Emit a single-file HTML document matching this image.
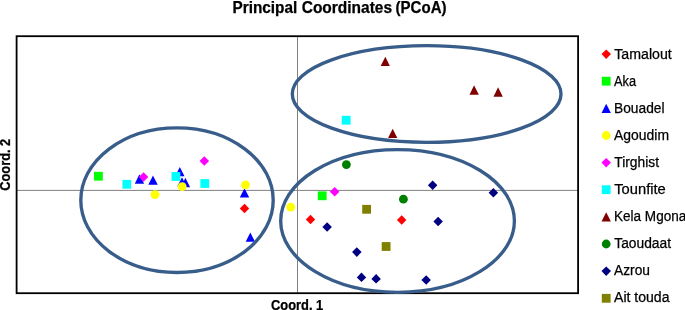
<!DOCTYPE html>
<html><head><meta charset="utf-8"><title>Principal Coordinates (PCoA)</title>
<style>
html,body{margin:0;padding:0;background:#fff;}
body{width:685px;height:310px;overflow:hidden;}
svg{display:block;}
text{font-family:"Liberation Sans",sans-serif;fill:#000;stroke:#000;stroke-width:0.25px;}
.b{font-weight:bold;}
</style></head><body>
<svg width="685" height="310" viewBox="0 0 685 310">
<rect x="0" y="0" width="685" height="310" fill="#fff"/>

<line x1="297.5" y1="36" x2="297.5" y2="293" stroke="#808080" stroke-width="1"/>
<line x1="17" y1="190.4" x2="578" y2="190.4" stroke="#808080" stroke-width="1"/>
<rect x="16.6" y="36.2" width="561.5" height="257" fill="none" stroke="#000" stroke-width="1.8"/>
<g>
<polygon points="244.5,203.7 249.2,208.4 244.5,213.2 239.8,208.4" fill="#FF0000"/>
<polygon points="310.5,214.8 315.2,219.6 310.5,224.3 305.8,219.6" fill="#FF0000"/>
<polygon points="401.7,215.2 406.4,220.0 401.7,224.8 396.9,220.0" fill="#FF0000"/>
</g>
<g>
<rect x="94.0" y="171.8" width="8.8" height="8.8" fill="#00FF00"/>
<rect x="317.8" y="191.4" width="8.8" height="8.8" fill="#00FF00"/>
</g>
<g>
<polygon points="139.4,174.3 144.1,183.7 134.8,183.7" fill="#0000FF"/>
<polygon points="153.0,175.5 157.7,184.8 148.3,184.8" fill="#0000FF"/>
<polygon points="179.8,166.9 184.5,176.2 175.2,176.2" fill="#0000FF"/>
<polygon points="182.0,177.2 186.7,186.6 177.3,186.6" fill="#0000FF"/>
<polygon points="185.4,177.8 190.1,187.2 180.8,187.2" fill="#0000FF"/>
<polygon points="244.5,188.2 249.2,197.6 239.8,197.6" fill="#0000FF"/>
<polygon points="250.3,232.4 255.0,241.8 245.7,241.8" fill="#0000FF"/>
</g>
<g>
<circle cx="155.0" cy="194.6" r="4.4" fill="#FFFF00"/>
<circle cx="182.2" cy="186.6" r="4.4" fill="#FFFF00"/>
<circle cx="245.5" cy="184.8" r="4.4" fill="#FFFF00"/>
<circle cx="290.7" cy="207.1" r="4.4" fill="#FFFF00"/>
</g>
<g>
<polygon points="143.6,172.3 148.3,177.1 143.6,181.8 138.8,177.1" fill="#FF00FF"/>
<polygon points="204.3,156.3 209.1,161.1 204.3,165.8 199.6,161.1" fill="#FF00FF"/>
<polygon points="334.7,186.9 339.4,191.7 334.7,196.4 329.9,191.7" fill="#FF00FF"/>
</g>
<g>
<rect x="122.4" y="179.9" width="8.8" height="8.8" fill="#00FFFF"/>
<rect x="171.5" y="172.1" width="8.8" height="8.8" fill="#00FFFF"/>
<rect x="200.4" y="179.1" width="8.8" height="8.8" fill="#00FFFF"/>
<rect x="341.8" y="115.8" width="8.8" height="8.8" fill="#00FFFF"/>
</g>
<g>
<polygon points="385.3,56.8 389.9,66.0 380.7,66.0" fill="#800000"/>
<polygon points="392.7,128.8 397.3,138.1 388.1,138.1" fill="#800000"/>
<polygon points="474.1,85.3 478.8,94.7 469.5,94.7" fill="#800000"/>
<polygon points="498.1,87.3 502.8,96.7 493.5,96.7" fill="#800000"/>
</g>
<g>
<circle cx="346.4" cy="164.6" r="4.4" fill="#008000"/>
<circle cx="403.4" cy="199.2" r="4.4" fill="#008000"/>
</g>
<g>
<polygon points="327.1,222.3 331.9,227.1 327.1,231.8 322.4,227.1" fill="#000080"/>
<polygon points="432.6,180.6 437.4,185.3 432.6,190.1 427.9,185.3" fill="#000080"/>
<polygon points="438.1,216.7 442.9,221.4 438.1,226.2 433.4,221.4" fill="#000080"/>
<polygon points="356.8,247.3 361.6,252.1 356.8,256.9 352.1,252.1" fill="#000080"/>
<polygon points="361.5,272.6 366.2,277.4 361.5,282.1 356.8,277.4" fill="#000080"/>
<polygon points="376.1,274.1 380.9,278.9 376.1,283.6 371.4,278.9" fill="#000080"/>
<polygon points="426.2,275.2 430.9,280.0 426.2,284.8 421.4,280.0" fill="#000080"/>
<polygon points="493.4,188.1 498.1,192.8 493.4,197.6 488.6,192.8" fill="#000080"/>
</g>
<g>
<rect x="362.2" y="204.9" width="8.8" height="8.8" fill="#808000"/>
<rect x="381.7" y="242.1" width="8.8" height="8.8" fill="#808000"/>
</g>
<g fill="none" stroke="#385D8A" stroke-width="3.35">
<ellipse cx="177" cy="200.2" rx="96.2" ry="72.3"/>
<ellipse cx="426.65" cy="94" rx="134.35" ry="48.3"/>
<ellipse cx="397.55" cy="220.95" rx="116.85" ry="71.35"/>
</g>
<text class="b" x="232.50" y="12.65" font-size="15.7" textLength="64.75" lengthAdjust="spacingAndGlyphs">Principal</text>
<text class="b" x="301.75" y="12.65" font-size="15.7" textLength="90.25" lengthAdjust="spacingAndGlyphs">Coordinates</text>
<text class="b" x="395.55" y="12.65" font-size="15.7" textLength="51.00" lengthAdjust="spacingAndGlyphs">(PCoA)</text>
<text class="b" x="271.00" y="309.80" font-size="13.8" textLength="52.25" lengthAdjust="spacingAndGlyphs">Coord. 1</text>
<text class="b" transform="translate(10.30,190.75) rotate(-90)" font-size="13.9" textLength="52.00" lengthAdjust="spacingAndGlyphs">Coord. 2</text>
<polygon points="606.2,49.4 611.0,54.1 606.2,58.9 601.5,54.1" fill="#FF0000"/>
<text x="614.25" y="58.50" font-size="14" textLength="57.50" lengthAdjust="spacingAndGlyphs">Tamalout</text>
<rect x="601.8" y="76.8" width="8.8" height="8.8" fill="#00FF00"/>
<text x="614.00" y="85.59" font-size="14" textLength="22.00" lengthAdjust="spacingAndGlyphs">Aka</text>
<polygon points="606.2,103.7 610.9,113.0 601.6,113.0" fill="#0000FF"/>
<text x="614.00" y="112.68" font-size="14" textLength="50.50" lengthAdjust="spacingAndGlyphs">Bouadel</text>
<circle cx="606.2" cy="135.5" r="4.4" fill="#FFFF00"/>
<text x="614.00" y="139.77" font-size="14" textLength="55.00" lengthAdjust="spacingAndGlyphs">Agoudim</text>
<polygon points="606.2,157.9 611.0,162.6 606.2,167.4 601.5,162.6" fill="#FF00FF"/>
<text x="614.25" y="166.86" font-size="14" textLength="44.75" lengthAdjust="spacingAndGlyphs">Tirghist</text>
<rect x="601.8" y="185.3" width="8.8" height="8.8" fill="#00FFFF"/>
<text x="614.25" y="193.95" font-size="14" textLength="51.50" lengthAdjust="spacingAndGlyphs">Tounfite</text>
<polygon points="606.2,212.2 610.9,221.5 601.6,221.5" fill="#800000"/>
<text x="614.00" y="221.04" font-size="14" textLength="72.25" lengthAdjust="spacingAndGlyphs">Kela Mgona</text>
<circle cx="606.2" cy="244.0" r="4.4" fill="#008000"/>
<text x="614.25" y="248.13" font-size="14" textLength="56.75" lengthAdjust="spacingAndGlyphs">Taoudaat</text>
<polygon points="606.2,266.4 611.0,271.1 606.2,275.9 601.5,271.1" fill="#000080"/>
<text x="614.00" y="275.22" font-size="14" textLength="36.00" lengthAdjust="spacingAndGlyphs">Azrou</text>
<rect x="601.8" y="293.9" width="8.8" height="8.8" fill="#808000"/>
<text x="614.00" y="302.31" font-size="14" textLength="55.50" lengthAdjust="spacingAndGlyphs">Ait touda</text>
</svg></body></html>
